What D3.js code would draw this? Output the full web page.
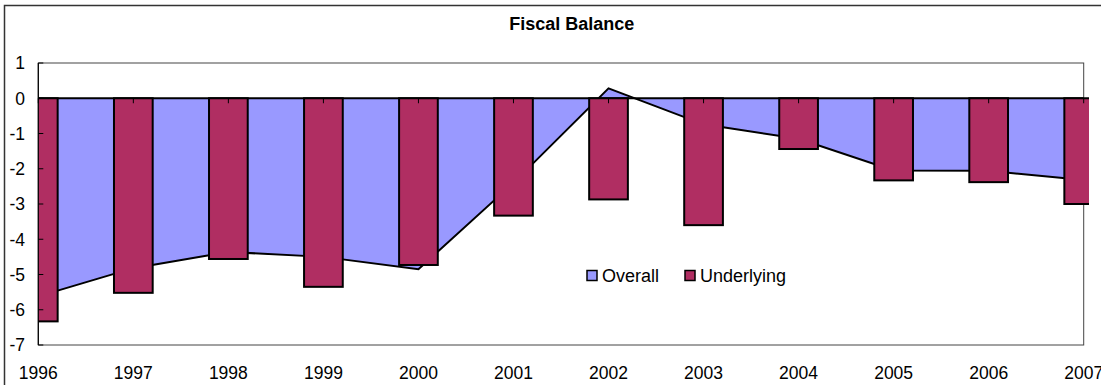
<!DOCTYPE html>
<html><head><meta charset="utf-8">
<script src="https://cdn.jsdelivr.net/npm/d3@7/dist/d3.min.js"></script>
<style>
html,body{margin:0;padding:0;background:#fff;}
svg{display:block;font-family:Arial,"Liberation Sans",sans-serif;}
</style></head>
<body><svg id="chart" width="1101" height="385"></svg>
<script>
const categories = ["1996","1997","1998","1999","2000","2001","2002","2003","2004","2005","2006","2007"];
const overall    = [-5.62, -4.82, -4.36, -4.5, -4.85, -2.4, 0.28, -0.74, -1.15, -2.05, -2.06, -2.32];
const underlying = [-6.33, -5.52, -4.56, -5.35, -4.73, -3.33, -2.87, -3.6, -1.44, -2.33, -2.38, -3.0];
const yTicks = [1, 0, -1, -2, -3, -4, -5, -6, -7];
const seriesNames = ["Overall", "Underlying"];
const seriesColors = ["#9999FF", "#B02E62"];

const svg = d3.select("#chart");
const L = 38.3, R = 1083.7, T = 63, B = 345;
const x = d3.scalePoint().domain(categories).range([L, R]);
const y = d3.scaleLinear().domain([-7, 1]).range([B, T]);
const barW = 38.7;

// outer frame
svg.append("rect").attr("x", 4.5).attr("y", 5.5).attr("width", 1120).attr("height", 420)
  .attr("fill", "none").attr("stroke", "#333").attr("stroke-width", 1.5);

// title
svg.append("text").attr("x", 571.7).attr("y", 30).attr("text-anchor", "middle")
  .attr("font-size", 18).attr("font-weight", "bold").attr("fill", "#000").text("Fiscal Balance");

// plot area border
svg.append("rect").attr("x", L).attr("y", T).attr("width", R - L).attr("height", B - T)
  .attr("fill", "#fff").attr("stroke", "#444").attr("stroke-width", 1);

// clip for area
svg.append("clipPath").attr("id", "plotclip").append("rect")
  .attr("x", L).attr("y", T - 5).attr("width", R - L).attr("height", B - T + 10);
svg.append("clipPath").attr("id", "barclip").append("rect")
  .attr("x", L).attr("y", T - 5).attr("width", 1089 - L).attr("height", B - T + 10);

const data = categories.map((c, i) => ({c, o: overall[i], u: underlying[i]}));

// area
const area = d3.area().x(d => x(d.c)).y0(y(0)).y1(d => y(d.o));
const line = d3.line().x(d => x(d.c)).y(d => y(d.o));
const g = svg.append("g").attr("clip-path", "url(#plotclip)");
g.append("path").datum(data).attr("d", area).attr("fill", seriesColors[0]);
g.append("path").datum(data).attr("d", line).attr("fill", "none")
  .attr("stroke", "#000").attr("stroke-width", 2).attr("stroke-linejoin", "miter");

// zero line
svg.append("line").attr("x1", L).attr("x2", R).attr("y1", y(0)).attr("y2", y(0))
  .attr("stroke", "#000").attr("stroke-width", 2);

// bars
const gb = svg.append("g").attr("clip-path", "url(#barclip)");
gb.selectAll("rect.bar").data(data).join("rect").attr("class", "bar")
  .attr("x", d => x(d.c) - barW / 2)
  .attr("y", d => Math.min(y(0), y(d.u)))
  .attr("width", barW)
  .attr("height", d => Math.abs(y(d.u) - y(0)))
  .attr("fill", seriesColors[1]).attr("stroke", "#000").attr("stroke-width", 2);

// x ticks on zero line
svg.selectAll("line.xt").data(categories).join("line").attr("class", "xt")
  .attr("x1", d => x(d)).attr("x2", d => x(d))
  .attr("y1", y(0)).attr("y2", y(0) + 5).attr("stroke", "#000").attr("stroke-width", 1);

// y axis
svg.append("line").attr("x1", L).attr("x2", L).attr("y1", T).attr("y2", B)
  .attr("stroke", "#000").attr("stroke-width", 1.2);
svg.selectAll("line.yt").data(yTicks).join("line").attr("class", "yt")
  .attr("x1", L).attr("x2", L + 5).attr("y1", d => y(d)).attr("y2", d => y(d))
  .attr("stroke", "#000").attr("stroke-width", 1);
svg.selectAll("text.yl").data(yTicks).join("text").attr("class", "yl")
  .attr("x", 25).attr("y", d => y(d)).attr("dy", "0.36em").attr("text-anchor", "end")
  .attr("font-size", 17.5).attr("fill", "#000").text(d => d);

// x labels
svg.selectAll("text.xl").data(categories).join("text").attr("class", "xl")
  .attr("x", d => x(d)).attr("y", 379).attr("text-anchor", "middle")
  .attr("font-size", 17.5).attr("fill", "#000").text(d => d);

// legend
const leg = [{n: seriesNames[0], c: seriesColors[0], x: 587}, {n: seriesNames[1], c: seriesColors[1], x: 685}];
const lg = svg.selectAll("g.leg").data(leg).join("g").attr("class", "leg");
lg.append("rect").attr("x", d => d.x).attr("y", 270.5).attr("width", 10).attr("height", 10)
  .attr("fill", d => d.c).attr("stroke", "#000").attr("stroke-width", 1.5);
lg.append("text").attr("x", d => d.x + 15).attr("y", 282).attr("font-size", 18)
  .attr("fill", "#000").text(d => d.n);
</script></body></html>
